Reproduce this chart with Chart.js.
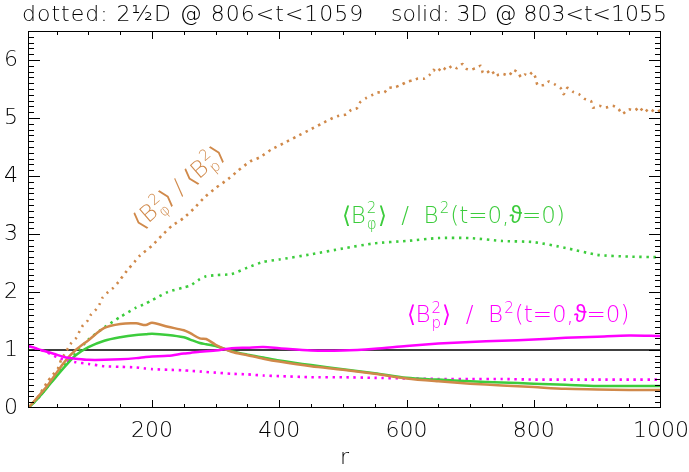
<!DOCTYPE html>
<html>
<head>
<meta charset="utf-8">
<script src="https://cdn.jsdelivr.net/npm/chart.js@4.4.0/dist/chart.umd.min.js"></script>
<style>
  html, body { margin: 0; padding: 0; background: #fff; }
  canvas { display: block; }
</style>
</head>
<body>
<canvas id="chart" width="689" height="472" style="width:689px;height:472px"></canvas>
<script>
// radius grid shared by the smooth curves
const radius = [5, 15, 25, 35, 50, 65, 80, 100, 125, 150, 175, 190, 200, 225, 250, 260, 275, 285, 300,
  325, 350, 375, 400, 450, 500, 550, 600, 650, 700, 750, 800, 850, 900, 950, 1000];

// solid: 3D
const bphi3D = [0, 0.1, 0.22, 0.35, 0.55, 0.74, 0.91, 1.05, 1.16, 1.22, 1.26, 1.27, 1.28, 1.26, 1.22, 1.18, 1.12, 1.10, 1.07,
  0.98, 0.92, 0.87, 0.82, 0.74, 0.67, 0.60, 0.52, 0.49, 0.46, 0.44, 0.42, 0.40, 0.38, 0.38, 0.38];
const ratio3D = [0, 0.12, 0.25, 0.38, 0.61, 0.83, 1.0, 1.17, 1.38, 1.45, 1.46, 1.43, 1.47, 1.40, 1.34, 1.29, 1.20, 1.19, 1.09,
  0.97, 0.91, 0.85, 0.80, 0.72, 0.66, 0.59, 0.51, 0.46, 0.42, 0.39, 0.36, 0.33, 0.32, 0.31, 0.31];
const bp3D = [1.07, 1.04, 1.0, 0.97, 0.92, 0.87, 0.85, 0.83, 0.83, 0.84, 0.86, 0.88, 0.89, 0.90, 0.94, 0.95, 0.97, 0.98, 0.99,
  1.03, 1.04, 1.05, 1.03, 0.99, 0.99, 1.02, 1.07, 1.11, 1.14, 1.16, 1.18, 1.21, 1.23, 1.25, 1.24];

// dotted: 2.5D
const bphi25D = [0, 0.1, 0.22, 0.36, 0.57, 0.78, 0.94, 1.18, 1.39, 1.57, 1.73, 1.80, 1.86, 2.0, 2.08, 2.11, 2.22, 2.27, 2.29,
  2.31, 2.42, 2.52, 2.56, 2.65, 2.75, 2.84, 2.88, 2.93, 2.93, 2.88, 2.86, 2.76, 2.64, 2.61, 2.6];
const bp25D = [1.07, 1.03, 1.0, 0.96, 0.88, 0.82, 0.79, 0.76, 0.72, 0.71, 0.70, 0.68, 0.67, 0.66, 0.65, 0.64, 0.63, 0.62, 0.61,
  0.59, 0.58, 0.56, 0.55, 0.53, 0.53, 0.52, 0.51, 0.50, 0.50, 0.50, 0.49, 0.49, 0.49, 0.49, 0.49];

// the noisy 2.5D ratio has its own, denser radius sampling
const radiusRatio25D = [5, 20, 36, 44, 52, 57, 62, 73, 81, 86, 91, 99, 104, 112, 118, 122, 131, 139, 147, 160,
  174, 181, 200, 215, 231, 249, 265, 283, 301, 320, 335, 354, 369, 388, 406, 427, 445, 466, 484, 494,
  505, 513, 522, 527, 536, 545, 554, 565, 572, 582, 593, 602, 611, 618, 628, 636, 642, 648, 656, 663,
  672, 679, 688, 694, 701, 708, 717, 720, 726, 733, 740, 745, 752, 761, 768, 776, 780, 786, 792, 798,
  803, 806, 816, 824, 833, 842, 847, 853, 862, 871, 880, 890, 893, 903, 913, 924, 933, 939, 949, 959,
  966, 973, 982, 991, 1000];
const ratio25D = [0, 0.18, 0.46, 0.57, 0.68, 0.83, 0.92, 1.12, 1.21, 1.32, 1.42, 1.51, 1.61, 1.7, 1.8, 1.9, 2.0, 2.07, 2.17, 2.36,
  2.54, 2.63, 2.8, 2.97, 3.14, 3.27, 3.43, 3.64, 3.8, 3.95, 4.09, 4.25, 4.32, 4.46, 4.56, 4.68, 4.78, 4.9, 5.0, 5.04,
  5.06, 5.14, 5.17, 5.27, 5.34, 5.39, 5.44, 5.44, 5.52, 5.53, 5.58, 5.63, 5.65, 5.68, 5.68, 5.74, 5.83, 5.79, 5.88, 5.83,
  5.9, 5.86, 5.93, 5.85, 5.83, 5.86, 5.9, 5.78, 5.78, 5.83, 5.72, 5.75, 5.76, 5.73, 5.83, 5.77, 5.7, 5.75, 5.73, 5.79,
  5.69, 5.57, 5.57, 5.63, 5.58, 5.52, 5.41, 5.52, 5.45, 5.41, 5.33, 5.29, 5.18, 5.21, 5.18, 5.21, 5.16, 5.07, 5.15, 5.13,
  5.19, 5.1, 5.16, 5.1, 5.14];

const xTicks = [200, 400, 600, 800, 1000];
const yTicks = [0, 1, 2, 3, 4, 5, 6];
const xRange = [5, 1000];
const yRange = [0, 6.5];
const titleLeft = 'dotted: 2½D @ 806<t<1059';
const titleRight = 'solid: 3D @ 803<t<1055';

const ORANGE = '#d0894a';
const GREEN = '#3ccc3c';
const MAGENTA = '#ff00ff';
const FAM = '"DejaVu Sans", sans-serif';
const FW = 200;
const FS = 22;
const LS = 23;

const pts = (xs, ys) => xs.map((x, i) => ({ x, y: ys[i] }));

// draws text with stacked super/subscripts, returns width
function rich(ctx, parts, x, y, size, draw) {
  let cx = x;
  for (const [text, sup, sub] of parts) {
    ctx.font = `${FW} ${size}px ${FAM}`;
    if (draw) ctx.fillText(text, cx, y);
    cx += ctx.measureText(text).width;
    if (sup || sub) {
      ctx.font = `${FW} ${Math.round(size * 0.66)}px ${FAM}`;
      let w = 0;
      if (sup) {
        if (draw) ctx.fillText(sup, cx + 1, y - size * 0.42);
        w = ctx.measureText(sup).width;
      }
      if (sub) {
        if (draw) ctx.fillText(sub, cx + 1, y + size * 0.24);
        w = Math.max(w, ctx.measureText(sub).width);
      }
      cx += w + 2;
    }
  }
  return cx - x;
}

const labels = [
  { parts: [['⟨B', '2', 'φ'], ['⟩  /  B', '2'], ['(t=0,ϑ=0)']], at: [498, 3.19], color: GREEN, angle: 0 },
  { parts: [['⟨B', '2', 'p'], ['⟩  /  B', '2'], ['(t=0,ϑ=0)']], at: [600, 1.48], color: MAGENTA, angle: 0 },
  { parts: [['⟨B', '2', 'φ'], ['⟩ / ⟨B', '2', 'p'], ['⟩']], at: [241, 3.81], color: ORANGE, angle: -41 }
];

const decor = {
  id: 'decor',
  afterDraw(chart) {
    const { ctx, chartArea: a, scales: { x, y } } = chart;
    ctx.save();
    ctx.strokeStyle = '#000';
    ctx.lineWidth = 1;
    ctx.strokeRect(a.left + 0.5, a.top + 0.5, a.right - a.left - 1, a.bottom - a.top - 1);
    ctx.beginPath();
    for (let v = 50; v < xRange[1]; v += 50) {
      const px = Math.round(x.getPixelForValue(v)) + 0.5;
      const len = v % 200 === 0 ? 8 : 4;
      ctx.moveTo(px, a.bottom); ctx.lineTo(px, a.bottom - len);
      ctx.moveTo(px, a.top); ctx.lineTo(px, a.top + len);
    }
    for (let i = 1; i < 65; i++) {
      const py = Math.round(y.getPixelForValue(i / 10)) + 0.5;
      const len = i % 10 === 0 ? 12 : 6;
      ctx.moveTo(a.left, py); ctx.lineTo(a.left + len, py);
      ctx.moveTo(a.right, py); ctx.lineTo(a.right - len, py);
    }
    ctx.stroke();

    ctx.fillStyle = '#000';
    ctx.font = `${FW} ${FS}px ${FAM}`;
    ctx.textBaseline = 'alphabetic';
    ctx.textAlign = 'left';
    ctx.letterSpacing = '1px';
    ctx.fillText(titleLeft, 22, 21);
    ctx.letterSpacing = '0px';
    ctx.textAlign = 'right';
    ctx.fillText(titleRight, 667, 21);
    ctx.textAlign = 'left';

    for (const lb of labels) {
      ctx.fillStyle = lb.color;
      const px = x.getPixelForValue(lb.at[0]);
      const py = y.getPixelForValue(lb.at[1]);
      if (lb.angle) {
        const w = rich(ctx, lb.parts, 0, 0, LS, false);
        ctx.save();
        ctx.translate(px, py);
        ctx.rotate(lb.angle * Math.PI / 180);
        rich(ctx, lb.parts, -w / 2, 8, LS, true);
        ctx.restore();
      } else {
        rich(ctx, lb.parts, px, py, LS, true);
      }
    }
    ctx.restore();
  }
};

const solid = (data, color) => ({ data, borderColor: color, borderWidth: 2.5, pointRadius: 0, tension: 0.3, fill: false });
const dotted = (data, color) => ({ ...solid(data, color), borderWidth: 2.6, borderDash: [2.4, 4.6], tension: 0.2 });
const tickFont = { family: FAM, size: FS, weight: FW };

new Chart(document.getElementById('chart'), {
  type: 'line',
  data: {
    datasets: [
      solid(pts(radius, bp3D), MAGENTA),
      solid(pts(radius, ratio3D), ORANGE),
      solid(pts(radius, bphi3D), GREEN),
      dotted(pts(radiusRatio25D, ratio25D), ORANGE),
      dotted(pts(radius, bphi25D), GREEN),
      dotted(pts(radius, bp25D), MAGENTA),
      { data: pts(xRange, [1, 1]), borderColor: '#000', borderWidth: 1.5, pointRadius: 0 }
    ]
  },
  options: {
    responsive: false,
    animation: false,
    devicePixelRatio: 1,
    layout: { padding: { top: 31, right: 28, left: 0, bottom: 0 } },
    plugins: { legend: { display: false }, tooltip: { enabled: false } },
    scales: {
      x: {
        type: 'linear', min: xRange[0], max: xRange[1],
        grid: { display: false, drawTicks: false }, border: { display: false },
        ticks: { color: '#000', padding: 10, maxRotation: 0, font: tickFont, callback: v => String(v) },
        title: { display: true, text: 'r', color: '#000', padding: { top: 0, bottom: 1 }, font: tickFont },
        afterBuildTicks: s => { s.ticks = xTicks.map(value => ({ value })); },
        afterFit: s => { s.height = 64; s.paddingLeft = 0; s.paddingRight = 0; }
      },
      y: {
        min: yRange[0], max: yRange[1],
        grid: { display: false, drawTicks: false }, border: { display: false },
        ticks: { color: '#000', padding: 10, font: tickFont },
        afterBuildTicks: s => { s.ticks = yTicks.map(value => ({ value })); },
        afterFit: s => { s.width = 28; s.paddingTop = 0; s.paddingBottom = 0; }
      }
    }
  },
  plugins: [decor]
});
</script>
</body>
</html>
